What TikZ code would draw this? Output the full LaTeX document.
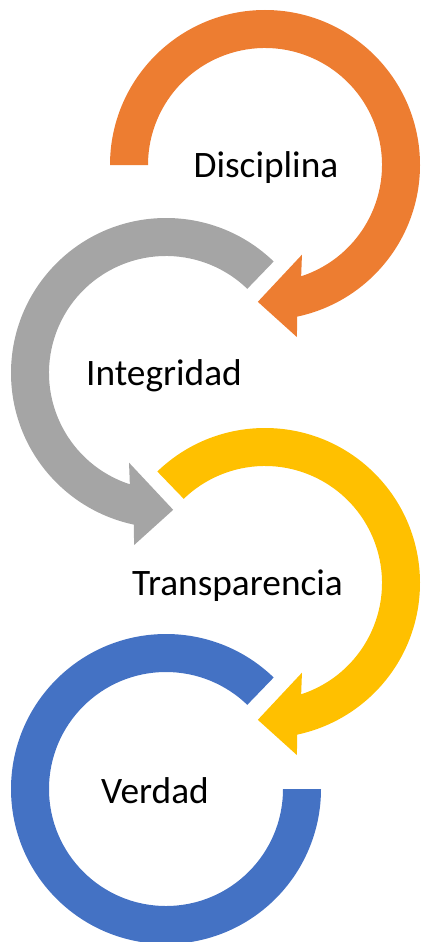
\documentclass[tikz,border=0pt]{standalone}
\usepackage{fontspec}
\setmainfont{Carlito}
\definecolor{ringorange}{HTML}{ED7D31}
\definecolor{ringgray}{HTML}{A5A5A5}
\definecolor{ringgold}{HTML}{FFC000}
\definecolor{ringblue}{HTML}{4472C4}
\tikzset{
  lbl/.style={anchor=base,inner sep=0pt,font=\fontsize{28}{34}\selectfont}
}
\begin{document}
\begin{tikzpicture}[x=0.75pt,y=0.75pt]
  \useasboundingbox (0,0) rectangle (423,-942);

  % Disciplina: clockwise, starts flat at the left
  \begin{scope}[shift={(265,-165)}]
    \fill[ringorange] (180:155) arc[start angle=180,end angle=-78,radius=155]
      -- (-79.5:175) -- (-93:137) -- (-67.6:97) -- (-72:117)
      arc[start angle=-72,end angle=180,radius=117] -- cycle;
  \end{scope}

  % Integridad: counter-clockwise, mirrored
  \begin{scope}[shift={(166,-373)}]
    \fill[ringgray] (46:155) arc[start angle=46,end angle=258,radius=155]
      -- (259.5:175) -- (273:137) -- (247.6:97) -- (252:117)
      arc[start angle=252,end angle=46,radius=117] -- cycle;
  \end{scope}

  % Transparencia
  \begin{scope}[shift={(265,-583)}]
    \fill[ringgold] (134:155) arc[start angle=134,end angle=-78,radius=155]
      -- (-79.5:175) -- (-93:137) -- (-67.6:97) -- (-72:117)
      arc[start angle=-72,end angle=134,radius=117] -- cycle;
  \end{scope}

  % Verdad: no arrow head
  \begin{scope}[shift={(166,-789)}]
    \fill[ringblue] (46:155) arc[start angle=46,end angle=360,radius=155]
      -- (360:117)
      arc[start angle=360,end angle=46,radius=117] -- cycle;
  \end{scope}

  \node[lbl] (disciplina) at (266,-177) {Disciplina};
  \node[lbl] (integridad) at (164,-385) {Integridad};
  \node[lbl] (transparencia) at (237.5,-595) {Transparencia};
  \node[lbl] (verdad) at (155,-803) {Verdad};
\end{tikzpicture}
\end{document}
